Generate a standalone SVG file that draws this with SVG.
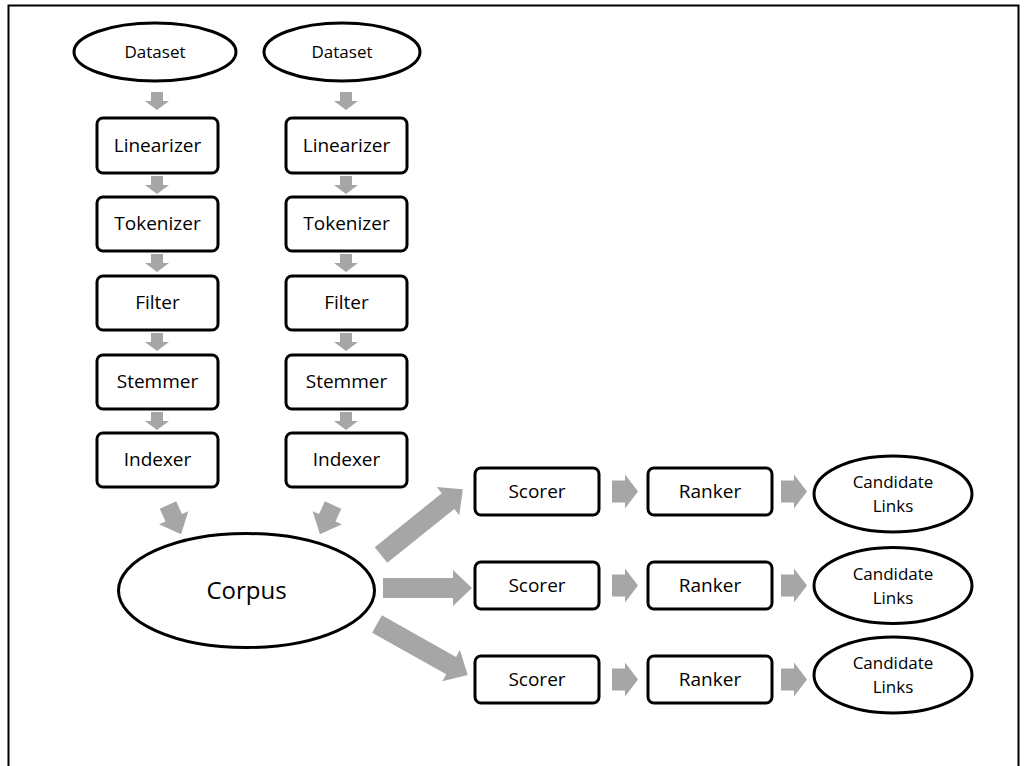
<svg xmlns="http://www.w3.org/2000/svg" xmlns:xlink="http://www.w3.org/1999/xlink" width="1027" height="766" viewBox="0 0 1027 766">
<style>
.nd{fill:#fff;stroke:#000;stroke-width:3}
.ar{fill:#a6a6a6;stroke:none}
.t{font-family:"Open Sans","Liberation Sans",sans-serif;text-anchor:middle;fill:#000}
.b{font-size:19px}
.s{font-size:17px}
.c{font-size:24px}
</style>
<defs>
<polygon id="vd" points="-6,0 6,0 6,9 12,9 0,18 -12,9 -6,9"/>
<polygon id="hr" points="0,-11 13,-11 13,-17 26,0 13,17 13,11 0,11"/>
</defs>
<rect x="8.5" y="5.5" width="1010" height="800" fill="#fff" stroke="#000" stroke-width="2"/>
<g id="connectors" class="ar">
<use xlink:href="#vd" x="157" y="92"/>
<use xlink:href="#vd" x="157" y="176"/>
<use xlink:href="#vd" x="157" y="254"/>
<use xlink:href="#vd" x="157" y="333"/>
<use xlink:href="#vd" x="157" y="412"/>
<use xlink:href="#vd" x="346" y="92"/>
<use xlink:href="#vd" x="346" y="176"/>
<use xlink:href="#vd" x="346" y="254"/>
<use xlink:href="#vd" x="346" y="333"/>
<use xlink:href="#vd" x="346" y="412"/>
<polygon points="0,-9 14,-9 14,-16 32,0 14,16 14,9 0,9" transform="translate(168,505) rotate(65.9)"/>
<polygon points="0,-9 14,-9 14,-16 32,0 14,16 14,9 0,9" transform="translate(333,505) rotate(114.1)"/>
<polygon points="0,-10 86,-10 86,-18 105,0 86,18 86,10 0,10" transform="translate(381,555) rotate(-38.8)"/>
<polygon points="0,-10 70,-10 70,-18 89,0 70,18 70,10 0,10" transform="translate(383,588)"/>
<polygon points="0,-10 85,-10 85,-18 104,0 85,18 85,10 0,10" transform="translate(377,624) rotate(29.3)"/>
<use xlink:href="#hr" x="612" y="491.5"/>
<use xlink:href="#hr" x="612" y="585.5"/>
<use xlink:href="#hr" x="612" y="679.5"/>
<use xlink:href="#hr" x="781" y="491.5"/>
<use xlink:href="#hr" x="781" y="585.5"/>
<use xlink:href="#hr" x="781" y="679.5"/>
</g>
<g id="dataset1"><ellipse class="nd" cx="155" cy="52" rx="81" ry="29"/><text class="t s" x="155" y="58">Dataset</text></g>
<g id="dataset2"><ellipse class="nd" cx="342" cy="52" rx="78" ry="29"/><text class="t s" x="342" y="58">Dataset</text></g>
<g id="linearizer1"><rect class="nd" x="97" y="118" width="121" height="55" rx="6"/><text class="t b" x="157.5" y="152">Linearizer</text></g>
<g id="linearizer2"><rect class="nd" x="286" y="118" width="121" height="55" rx="6"/><text class="t b" x="346.5" y="152">Linearizer</text></g>
<g id="tokenizer1"><rect class="nd" x="97" y="197" width="121" height="54" rx="6"/><text class="t b" x="157.5" y="230">Tokenizer</text></g>
<g id="tokenizer2"><rect class="nd" x="286" y="197" width="121" height="54" rx="6"/><text class="t b" x="346.5" y="230">Tokenizer</text></g>
<g id="filter1"><rect class="nd" x="97" y="276" width="121" height="54" rx="6"/><text class="t b" x="157.5" y="309">Filter</text></g>
<g id="filter2"><rect class="nd" x="286" y="276" width="121" height="54" rx="6"/><text class="t b" x="346.5" y="309">Filter</text></g>
<g id="stemmer1"><rect class="nd" x="97" y="355" width="121" height="54" rx="6"/><text class="t b" x="157.5" y="388">Stemmer</text></g>
<g id="stemmer2"><rect class="nd" x="286" y="355" width="121" height="54" rx="6"/><text class="t b" x="346.5" y="388">Stemmer</text></g>
<g id="indexer1"><rect class="nd" x="97" y="433" width="121" height="54" rx="6"/><text class="t b" x="157.5" y="466">Indexer</text></g>
<g id="indexer2"><rect class="nd" x="286" y="433" width="121" height="54" rx="6"/><text class="t b" x="346.5" y="466">Indexer</text></g>
<g id="corpus"><ellipse class="nd" cx="246.5" cy="590.5" rx="128" ry="57"/><text class="t c" x="246.5" y="599">Corpus</text></g>
<g id="scorer1"><rect class="nd" x="475" y="468" width="124" height="47" rx="6"/><text class="t b" x="537" y="498">Scorer</text></g>
<g id="scorer2"><rect class="nd" x="475" y="562" width="124" height="47" rx="6"/><text class="t b" x="537" y="592">Scorer</text></g>
<g id="scorer3"><rect class="nd" x="475" y="656" width="124" height="47" rx="6"/><text class="t b" x="537" y="686">Scorer</text></g>
<g id="ranker1"><rect class="nd" x="648" y="468" width="124" height="47" rx="6"/><text class="t b" x="710" y="498">Ranker</text></g>
<g id="ranker2"><rect class="nd" x="648" y="562" width="124" height="47" rx="6"/><text class="t b" x="710" y="592">Ranker</text></g>
<g id="ranker3"><rect class="nd" x="648" y="656" width="124" height="47" rx="6"/><text class="t b" x="710" y="686">Ranker</text></g>
<g id="links1"><ellipse class="nd" cx="893" cy="494" rx="79" ry="38"/><text class="t s" x="893" y="488">Candidate</text><text class="t s" x="893" y="512">Links</text></g>
<g id="links2"><ellipse class="nd" cx="893" cy="585.5" rx="79" ry="38"/><text class="t s" x="893" y="579.5">Candidate</text><text class="t s" x="893" y="603.5">Links</text></g>
<g id="links3"><ellipse class="nd" cx="893" cy="675" rx="79" ry="38"/><text class="t s" x="893" y="669">Candidate</text><text class="t s" x="893" y="693">Links</text></g>
</svg>
